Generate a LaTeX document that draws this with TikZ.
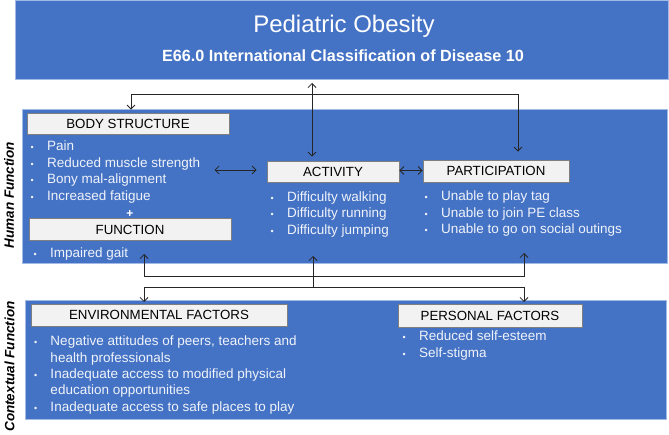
\documentclass[tikz,border=0pt]{standalone}
\usepackage{fontspec}
\setmainfont{Liberation Sans}
\usetikzlibrary{arrows.meta,calc}
\definecolor{band}{HTML}{4472C4}
\definecolor{bandedge}{HTML}{A3BAE6}
\definecolor{boxfill}{HTML}{F2F2F2}
\definecolor{boxedge}{HTML}{7F7F7F}
\definecolor{listtext}{HTML}{F0F3FA}
\newcommand{\bl}{\makebox[16.5pt][l]{\fontsize{9}{9}\selectfont\textbullet}}
\newcommand{\ind}{\hspace*{16.5pt}}
\tikzset{
  bandbox/.style={fill=band, draw=bandedge, line width=1pt, inner sep=0pt, anchor=north west},
  labelbox/.style={fill=boxfill, draw=boxedge, line width=0.8pt, inner sep=0pt, text=black,
    font=\fontsize{13.3}{16}\selectfont},
  listtxt/.style={inner sep=0pt, anchor=base west, text=listtext, font=\fontsize{13.5}{16.3}\selectfont},
  sidelabel/.style={rotate=90, inner sep=0pt, text=black, font=\bfseries\itshape\fontsize{13.5}{16}\selectfont},
  conn/.style={draw=black!85, line width=0.8pt},
  tipend/.style={-{Straight Barb[length=4pt,width=8pt]}},
  tipboth/.style={{Straight Barb[length=4pt,width=8pt]}-{Straight Barb[length=4pt,width=8pt]}}
}
\begin{document}
\begin{tikzpicture}[x=1pt,y=-1pt]
\useasboundingbox (0,0) rectangle (669,435);
\fill[white] (0,0) rectangle (669,435);

% bands
\node[bandbox, minimum width=653pt, minimum height=79pt] (top) at (15,0) {};
\node[bandbox, minimum width=645pt, minimum height=154pt] (hband) at (22,109) {};
\node[bandbox, minimum width=641pt, minimum height=119pt] (cband) at (25,300) {};

% title
\node[anchor=base, inner sep=0pt, text=white, font=\fontsize{24}{28}\selectfont] (title) at (344,32.3) {Pediatric Obesity};
\node[anchor=base, inner sep=0pt, text=white, font=\bfseries\fontsize{16.2}{19}\selectfont] (sub) at (343,61.7) {E66.0 International Classification of Disease 10};

% side labels
\node[sidelabel] (hf) at (9,195) {Human Function};
\node[sidelabel] (cf) at (9.5,366.5) {Contextual Function};

% label boxes
\node[labelbox, minimum width=202pt, minimum height=21pt] (body) at (128,123.5) {BODY STRUCTURE};
\node[labelbox, minimum width=202pt, minimum height=22pt] (func) at (130,229.5) {FUNCTION};
\node[labelbox, minimum width=132pt, minimum height=21pt] (act) at (333,171.5) {ACTIVITY};
\node[labelbox, minimum width=146pt, minimum height=22pt] (part) at (496,171) {PARTICIPATION};
\node[labelbox, minimum width=256pt, minimum height=22pt] (env) at (159,315) {ENVIRONMENTAL FACTORS};
\node[labelbox, minimum width=184pt, minimum height=23pt] (pers) at (490,315.5) {PERSONAL FACTORS};

% lists
\node[listtxt, font=\fontsize{13.5}{16.5}\selectfont] (bodylist) at (30.4,151) {\begin{tabular}[t]{@{}l@{}}
\bl Pain\\ \bl Reduced muscle strength\\ \bl Bony mal-alignment\\ \bl Increased fatigue\end{tabular}};
\node[inner sep=0pt, text=white, font=\bfseries\fontsize{12}{12}\selectfont] (plus) at (130,214) {+};
\node[listtxt] (funclist) at (33.4,257.7) {\begin{tabular}[t]{@{}l@{}}\bl Impaired gait\end{tabular}};
\node[listtxt] (actlist) at (270.4,201.7) {\begin{tabular}[t]{@{}l@{}}
\bl Difficulty walking\\ \bl Difficulty running\\ \bl Difficulty jumping\end{tabular}};
\node[listtxt] (partlist) at (424.4,201) {\begin{tabular}[t]{@{}l@{}}
\bl Unable to play tag\\ \bl Unable to join PE class\\ \bl Unable to go on social outings\end{tabular}};
\node[listtxt] (envlist) at (33.8,346) {\begin{tabular}[t]{@{}l@{}}
\bl Negative attitudes of peers, teachers and\\ \ind health professionals\\
\bl Inadequate access to modified physical\\ \ind education opportunities\\
\bl Inadequate access to safe places to play\end{tabular}};
\node[listtxt] (perslist) at (402.4,340.7) {\begin{tabular}[t]{@{}l@{}}
\bl Reduced self-esteem\\ \bl Self-stigma\end{tabular}};

% connector coordinates
\coordinate (hubT) at (312,94);
\coordinate (bx) at (131,94);
\coordinate (px) at (518,94);
\coordinate (lA) at (144,276);
\coordinate (lB) at (524,276);
\coordinate (mA) at (144,287);
\coordinate (mM) at (313,287);
\coordinate (mB) at (524,287);

% top connectors
\draw[conn, tipboth, shorten <=3pt, shorten >=4pt] (top.south -| hubT) -- (act.north -| hubT);
\draw[conn, tipend, shorten >=3pt] (hubT) -| (body.north -| bx);
\draw[conn, tipend, shorten >=8pt] (hubT) -| (part.north -| px);

% middle connectors
\draw[conn, tipboth] ([xshift=-52pt,yshift=1.5pt]act.west) -- ([xshift=-10pt,yshift=1.5pt]act.west);
\draw[conn, tipboth] ([yshift=1pt]act.east) -- ([yshift=1pt]part.west |- act.east);

% lower connectors
\draw[conn, tipboth] ($(hband.south -| lA)+(0,-10)$) -- (lA) -- (lB) -- ($(hband.south -| lB)+(0,-11)$);
\draw[conn, tipend] (mM) -- ($(hband.south -| mM)+(0,-8)$);
\draw[conn, tipboth] ($(cband.north -| mA)+(0,2)$) -- (mA) -- (mB) -- ($(cband.north -| mB)+(0,2)$);
\end{tikzpicture}
\end{document}
